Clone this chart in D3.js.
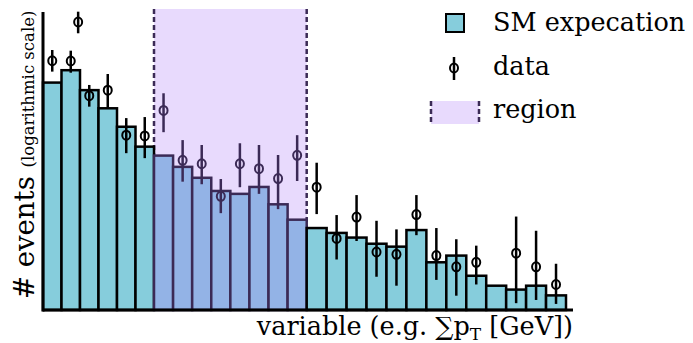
<!DOCTYPE html>
<html>
<head>
<meta charset="utf-8">
<script src="https://cdn.jsdelivr.net/npm/d3@7"></script>
<style>
  body { margin: 0; background: white; }
  text { font-family: "DejaVu Serif", serif; }
</style>
</head>
<body>
<div id="chart-area"></div>
<script>
/*
*    main.js
*/

// SM expectation per bin (27 bins, log scale)
const smExpectation = [188, 250, 158, 104, 68, 43,
    35, 27, 21, 15.5, 14.5, 17, 11.4, 8,
    6.6, 5.9, 5.3, 4.6, 4.3, 6.3, 3.0, 3.5, 2.2, 1.75, 1.6, 1.75, 1.4];

// data points: bin position, value, upper and lower error
const dataBin  = [0.5, 1.5, 1.9, 2.5, 3.5, 4.5, 5.5,
    6.5, 7.5, 8.5, 9.5, 10.5, 11.5, 12.5, 13.5,
    14.5, 15.5, 16.5, 17.5, 18.5, 19.5, 20.5, 21.5, 22.5, 24.5, 25.5, 26.5];
const dataValue = [311, 309, 759, 139, 158, 56, 55,
    99, 31.4, 29, 13.7, 29, 25.9, 20.6, 35.2,
    16.9, 5.2, 8.5, 3.8, 3.6, 9.0, 3.5, 2.7, 3.0, 3.7, 2.7, 1.8];
const dataHigh = [398, 392, 962, 178, 229, 83, 85,
    147, 50, 44.7, 20.4, 46.5, 44.7, 35.5, 56,
    29.7, 8.9, 14.1, 7.8, 6.4, 14.1, 6.6, 5.1, 4.4, 8.6, 6.2, 2.9];
const dataLow = [242, 236, 585, 108, 104, 37, 33,
    60, 19.2, 18.1, 9.3, 16.9, 14.5, 10.2, 19.5,
    9.1, 3.2, 4.9, 2.15, 1.75, 5.6, 2.0, 1.39, 1.8, 1.17, 1.26, 1.15];

// signal region, in bins
const regionBins = [6, 14];

const legendLabels = ["SM expecation", "data", "region"];

const width = 693;
const height = 343;
const axisY = 310;

const cyan = "#86cddc";
const blue = "#93b3e6";
const lavender = "#e8dafd";
const purple = "#3b2a56";

const svg = d3.select("#chart-area")
    .append("svg")
    .attr("width", width)
    .attr("height", height);

svg.append("rect")
    .attr("width", "100%")
    .attr("height", "100%")
    .attr("fill", "white");

const x = d3.scaleLinear()
    .domain([0, 6, 14, 27])
    .range([43, 154, 306.7, 566]);

const y = d3.scaleLog()
    .domain([1, 1000])
    .range([axisY, 10]);

const inRegion = b => b >= regionBins[0] && b < regionBins[1];

// region shading
svg.append("rect")
    .attr("x", x(regionBins[0]))
    .attr("y", 9)
    .attr("width", x(regionBins[1]) - x(regionBins[0]))
    .attr("height", axisY - 9)
    .attr("fill", lavender);

svg.selectAll(".region-edge")
    .data(regionBins)
    .enter()
    .append("line")
        .attr("class", "region-edge")
        .attr("x1", d => x(d))
        .attr("x2", d => x(d))
        .attr("y1", 9)
        .attr("y2", axisY)
        .attr("stroke", purple)
        .attr("stroke-width", 2.5)
        .attr("stroke-dasharray", "5 3");

// bars
svg.selectAll(".bar")
    .data(smExpectation)
    .enter()
    .append("rect")
        .attr("class", "bar")
        .attr("x", (d, i) => x(i))
        .attr("y", d => y(d))
        .attr("width", (d, i) => x(i + 1) - x(i))
        .attr("height", d => axisY - y(d))
        .attr("fill", (d, i) => inRegion(i) ? blue : cyan)
        .attr("stroke", (d, i) => inRegion(i) ? purple : "black")
        .attr("stroke-width", 2.5);

// data points
const points = svg.selectAll(".point")
    .data(dataBin)
    .enter()
    .append("g")
        .attr("class", "point");

points.append("line")
    .attr("x1", d => x(d))
    .attr("x2", d => x(d))
    .attr("y1", (d, i) => y(dataHigh[i]))
    .attr("y2", (d, i) => y(dataLow[i]))
    .attr("stroke", d => inRegion(d) ? purple : "black")
    .attr("stroke-width", 2.5);

points.append("ellipse")
    .attr("cx", d => x(d))
    .attr("cy", (d, i) => y(dataValue[i]))
    .attr("rx", 4)
    .attr("ry", 4.5)
    .attr("fill", "none")
    .attr("stroke", d => inRegion(d) ? purple : "black")
    .attr("stroke-width", 2);

// axes
svg.append("line")
    .attr("x1", 43).attr("x2", 43)
    .attr("y1", 12).attr("y2", axisY + 1.5)
    .attr("stroke", "black")
    .attr("stroke-width", 3);

svg.append("line")
    .attr("x1", 43).attr("x2", 573)
    .attr("y1", axisY).attr("y2", axisY)
    .attr("stroke", "black")
    .attr("stroke-width", 3);

// axis labels
const xLabel = svg.append("text")
    .attr("x", 573)
    .attr("y", 335)
    .attr("text-anchor", "end")
    .attr("font-size", "25.5px")
    .attr("fill", "black");
xLabel.append("tspan").text("variable (e.g. \u2211p");
xLabel.append("tspan").attr("font-size", "17px").attr("dy", 5).text("T");
xLabel.append("tspan").attr("dy", -5).text(" [GeV])");

const yLabel = svg.append("text")
    .attr("transform", "translate(34, 299) rotate(-90)")
    .attr("fill", "black");
yLabel.append("tspan").attr("font-size", "27.5px").text("# events ");
yLabel.append("tspan").attr("font-size", "16.5px").text("(logarithmic scale)");

// legend
const legend = svg.append("g");

legend.append("rect")
    .attr("x", 446).attr("y", 14)
    .attr("width", 18).attr("height", 18)
    .attr("fill", cyan)
    .attr("stroke", "black")
    .attr("stroke-width", 2);

legend.append("line")
    .attr("x1", 454).attr("x2", 454)
    .attr("y1", 57).attr("y2", 80)
    .attr("stroke", "black")
    .attr("stroke-width", 2.5);

legend.append("ellipse")
    .attr("cx", 454).attr("cy", 68)
    .attr("rx", 4)
    .attr("ry", 4.5)
    .attr("fill", "none")
    .attr("stroke", "black")
    .attr("stroke-width", 2);

legend.append("rect")
    .attr("x", 431).attr("y", 101)
    .attr("width", 48).attr("height", 23)
    .attr("fill", lavender);

legend.selectAll(".legend-edge")
    .data([431, 479])
    .enter()
    .append("line")
        .attr("x1", d => d).attr("x2", d => d)
        .attr("y1", 101).attr("y2", 124)
        .attr("stroke", purple)
        .attr("stroke-width", 2.5)
        .attr("stroke-dasharray", "5 3");

legend.selectAll(".legend-label")
    .data(legendLabels)
    .enter()
    .append("text")
        .attr("class", "legend-label")
        .attr("x", 493)
        .attr("y", (d, i) => 31 + i * 43.5)
        .attr("font-size", "25.5px")
        .attr("fill", "black")
        .text(d => d);
</script>
</body>
</html>
